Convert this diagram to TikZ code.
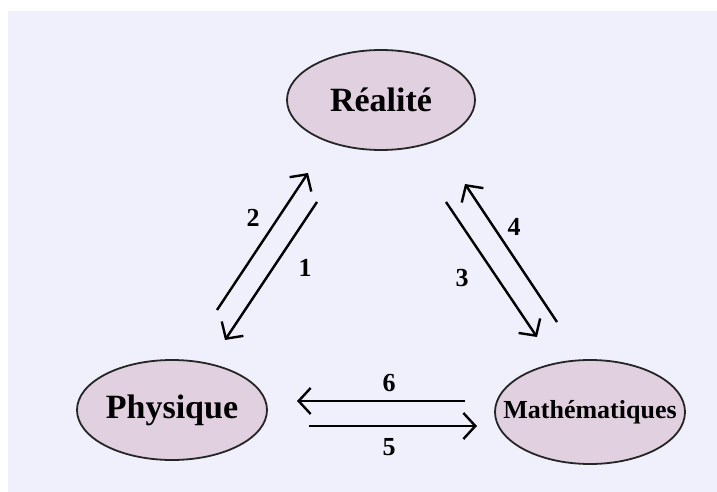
\documentclass[tikz,border=0pt]{standalone}
\usepackage{fontspec}
\setmainfont{Liberation Serif}
\usepackage{xcolor}
\usetikzlibrary{arrows.meta,positioning,shapes.geometric}

\definecolor{bgcol}{HTML}{F0F0FC}
\definecolor{ovalcol}{HTML}{E0D0E0}

\tikzset{
  pole/.style={ellipse, draw=black!85, line width=1.8pt, fill=ovalcol,
    inner sep=0pt, font=\fontsize{34}{40}\selectfont\bfseries},
  link/.style={line width=2.4pt, -{Straight Barb[length=12pt, width=26pt, line width=2.4pt]}},
  num/.style={font=\fontsize{26}{30}\selectfont\bfseries, inner sep=0pt}
}

\begin{document}
\begin{tikzpicture}[x=1pt, y=-1pt]
  \useasboundingbox (0,0) rectangle (717,492);
  \fill[bgcol] (8,11) rectangle (717,492);
  % --- the three poles ---
  \node[pole, minimum width=188pt, minimum height=100pt] (real) at (381,100) {Réalité};
  \node[pole, minimum width=190pt, minimum height=100pt] (phys) at (172,410) {Physique};
  \node[pole, minimum width=190pt, minimum height=104pt, inner xsep=-22pt,
        font=\fontsize{26}{30}\selectfont\bfseries] (math) at (590,412) {Mathématiques};
  % --- arrow ends ---
  \coordinate (a1s) at (317,202); \coordinate (a1e) at (225,340);
  \coordinate (a2s) at (217,310); \coordinate (a2e) at (308,173);
  \coordinate (a3s) at (446,202); \coordinate (a3e) at (537,337);
  \coordinate (a4s) at (557,322); \coordinate (a4e) at (465,184);
  \coordinate (a5s) at (309,426); \coordinate (a5e) at (477,426);
  \coordinate (a6s) at (465,401); \coordinate (a6e) at (297,401);
  % --- arrows ---
  \draw[link] (a1s) -- (a1e);
  \draw[link] (a2s) -- (a2e);
  \draw[link] (a3s) -- (a3e);
  \draw[link] (a4s) -- (a4e);
  \draw[link] (a5s) -- (a5e);
  \draw[link] (a6s) -- (a6e);
  % --- numbers ---
  \node[num] (n1) at (305,268) {1};
  \node[num] (n2) at (253,218) {2};
  \node[num] (n3) at (462,278) {3};
  \node[num] (n4) at (514,227) {4};
  \node[num] (n5) at (389,447) {5};
  \node[num] (n6) at (389,383) {6};
\end{tikzpicture}
\end{document}
